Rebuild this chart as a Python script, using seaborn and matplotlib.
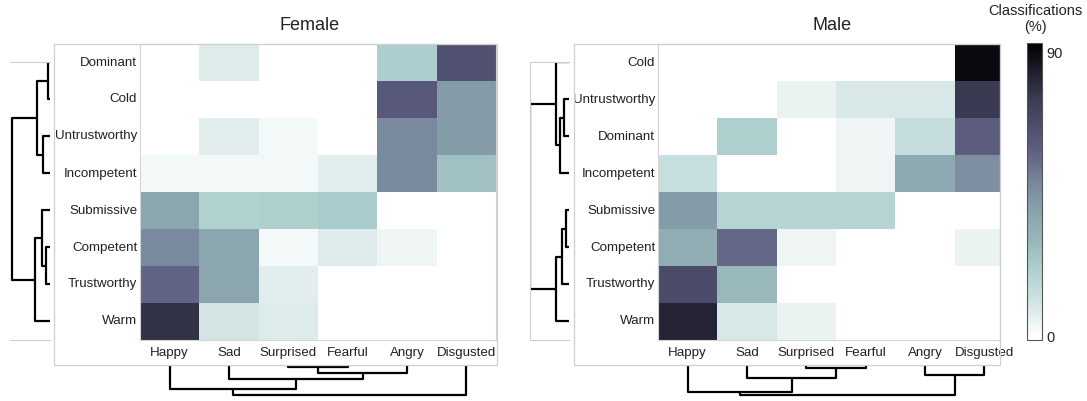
import numpy as np
import pandas as pd
import matplotlib
matplotlib.use("Agg")
import matplotlib.pyplot as plt
import matplotlib.patches as patches
from matplotlib.colors import LinearSegmentedColormap, Normalize
from matplotlib.cm import ScalarMappable
import seaborn as sns

sns.set_style("white")
plt.rcParams['font.family'] = ['Liberation Sans', 'DejaVu Sans']
plt.rcParams['text.color'] = '#222222'
plt.rcParams['xtick.color'] = '#222222'
plt.rcParams['ytick.color'] = '#222222'

# -------------------------- data --------------------------
emotions = ["Happy", "Sad", "Surprised", "Fearful", "Angry", "Disgusted"]

female_traits = ["Dominant", "Cold", "Untrustworthy", "Incompetent",
                 "Submissive", "Competent", "Trustworthy", "Warm"]
female_vals = [
    [0, 8, 0, 0, 22, 65],
    [0, 0, 0, 0, 62, 42],
    [0, 7, 3, 0, 48, 42],
    [3, 3, 3, 7, 48, 27],
    [38, 20, 21, 23, 0, 0],
    [48, 38, 3, 8, 4, 0],
    [58, 38, 7, 0, 0, 0],
    [78, 11, 8, 0, 0, 0],
]

male_traits = ["Cold", "Untrustworthy", "Dominant", "Incompetent",
               "Submissive", "Competent", "Trustworthy", "Warm"]
male_vals = [
    [0, 0, 0, 0, 0, 90],
    [0, 0, 5, 9, 9, 76],
    [0, 21, 0, 4, 15, 60],
    [14, 0, 0, 4, 37, 46],
    [42, 19, 19, 19, 0, 0],
    [35, 57, 4, 0, 0, 5],
    [68, 30, 0, 0, 0, 0],
    [82, 9, 5, 0, 0, 0],
]

# linkage as (left, right, height); leaves numbered in display order
female_row_links = [(0, 1, 2), (2, 3, 7), (8, 9, 13), (5, 6, 4),
                    (4, 11, 8), (12, 7, 15), (10, 13, 38)]
female_col_links = [(2, 3, 2), (6, 4, 8), (1, 7, 14), (0, 8, 24), (9, 5, 30)]
male_row_links = [(1, 2, 5), (8, 3, 9), (0, 9, 13), (4, 5, 3),
                  (11, 6, 7), (12, 7, 13), (10, 13, 39)]
male_col_links = [(2, 3, 3), (1, 6, 13), (4, 5, 10), (0, 7, 27), (9, 8, 30)]

VMIN, VMAX = -1, 93
cmap_stops = [(-1, '#ffffff'), (0, '#ffffff'), (9, '#d8e8e8'), (20, '#b2d2d2'),
              (30, '#98b8bc'), (40, '#88a2ac'), (48, '#7a8a9e'), (60, '#5c5c80'),
              (76, '#3a3a52'), (90, '#0a0a10'), (93, '#000000')]
cmap = LinearSegmentedColormap.from_list(
    'cls', [((v - VMIN) / (VMAX - VMIN), c) for v, c in cmap_stops])
norm = Normalize(VMIN, VMAX)

W, H = 1087, 401
fig = plt.figure(figsize=(W / 100, H / 100), dpi=100)


def px_axes(x0, y0, x1, y1):
    return fig.add_axes([x0 / W, 1 - y1 / H, (x1 - x0) / W, (y1 - y0) / H])


def px_box(x0, y0, x1, y1):
    rect = patches.Rectangle((x0 / W, 1 - y1 / H), (x1 - x0) / W, (y1 - y0) / H,
                             transform=fig.transFigure, fill=False,
                             ec='#cfcfcf', lw=0.9)
    fig.add_artist(rect)


def draw_dendro(ax, links, n, orient, offset=0.0):
    pos = {i: i + offset for i in range(n)}
    hgt = {i: 0.0 for i in range(n)}
    for k, (a, b, h) in enumerate(links):
        pa, pb, ha, hb = pos[a], pos[b], hgt[a], hgt[b]
        if orient == 'left':
            ax.plot([ha, h, h, hb], [pa, pa, pb, pb], color='black', lw=1.6,
                    solid_capstyle='butt')
        else:
            ax.plot([pa, pa, pb, pb], [ha, h, h, hb], color='black', lw=1.6,
                    solid_capstyle='butt')
        pos[n + k] = (pa + pb) / 2
        hgt[n + k] = h


def heat(ax, vals, rows, xmax):
    df = pd.DataFrame(vals, index=rows, columns=emotions)
    sns.heatmap(df, ax=ax, cmap=cmap, vmin=VMIN, vmax=VMAX, cbar=False,
                xticklabels=True, yticklabels=True)
    ax.set_xlim(0, xmax)
    ax.tick_params(axis='y', length=0, labelsize=9.6, pad=2)
    ax.tick_params(axis='x', length=0, labelsize=9.6, pad=5)
    ax.set_yticklabels(rows, rotation=0)
    ax.set_xticklabels(emotions, rotation=0)
    ax.set_xlabel('')
    ax.set_ylabel('')
    for s in ax.spines.values():
        s.set_visible(True)
        s.set_color('#d4d4d4')
        s.set_linewidth(0.8)


# -------------------------- Female --------------------------
px_box(54, 44, 497, 365)
ax_f = px_axes(140, 44, 496, 340)
heat(ax_f, female_vals, female_traits, 6)

ax_fr = px_axes(10, 62, 50, 340)
draw_dendro(ax_fr, female_row_links, 8, 'left')
ax_fr.set_xlim(40, 0)
ax_fr.set_ylim(7.5, 0)
ax_fr.set_xticks([])
ax_fr.set_yticks([])
for k, s in ax_fr.spines.items():
    s.set_visible(k in ('top', 'bottom'))
    s.set_color('#cfcfcf')
    s.set_linewidth(0.8)

ax_fc = px_axes(140, 365, 496, 397)
draw_dendro(ax_fc, female_col_links, 6, 'bottom', offset=0.5)
ax_fc.set_xlim(0, 6)
ax_fc.set_ylim(32, 0)
ax_fc.axis('off')

# -------------------------- Male --------------------------
px_box(574, 44, 1000, 365)
male_xmax = (1000 - 658) / ((496 - 140) / 6)
ax_m = px_axes(658, 44, 1000, 340)
heat(ax_m, male_vals, male_traits, male_xmax)

ax_mr = px_axes(530, 62, 569, 340)
draw_dendro(ax_mr, male_row_links, 8, 'left')
ax_mr.set_xlim(39, 0)
ax_mr.set_ylim(7.5, 0)
ax_mr.set_xticks([])
ax_mr.set_yticks([])
for k, s in ax_mr.spines.items():
    s.set_visible(k in ('top', 'bottom', 'left'))
    s.set_color('#cfcfcf')
    s.set_linewidth(0.8)

ax_mc = px_axes(658, 365, 1000, 397)
draw_dendro(ax_mc, male_col_links, 6, 'bottom', offset=0.5)
ax_mc.set_xlim(0, male_xmax)
ax_mc.set_ylim(32, 0)
ax_mc.axis('off')

# -------------------------- titles & colorbar --------------------------
fig.text(310 / W, 1 - 25 / H, 'Female', ha='center', va='center', fontsize=13)
fig.text(832 / W, 1 - 25 / H, 'Male', ha='center', va='center', fontsize=13)

cax = px_axes(1027, 43, 1042, 340)
cb = fig.colorbar(ScalarMappable(norm=norm, cmap=cmap), cax=cax, ticks=[0, 90])
cb.outline.set_edgecolor('#555555')
cb.outline.set_linewidth(0.8)
cax.tick_params(length=0, labelsize=10.5, pad=3)
fig.text(1035 / W, 1 - 19 / H, 'Classifications\n(%)', ha='center',
         va='center', fontsize=10.5, linespacing=1.2)

fig.savefig('out.png', dpi=100)
